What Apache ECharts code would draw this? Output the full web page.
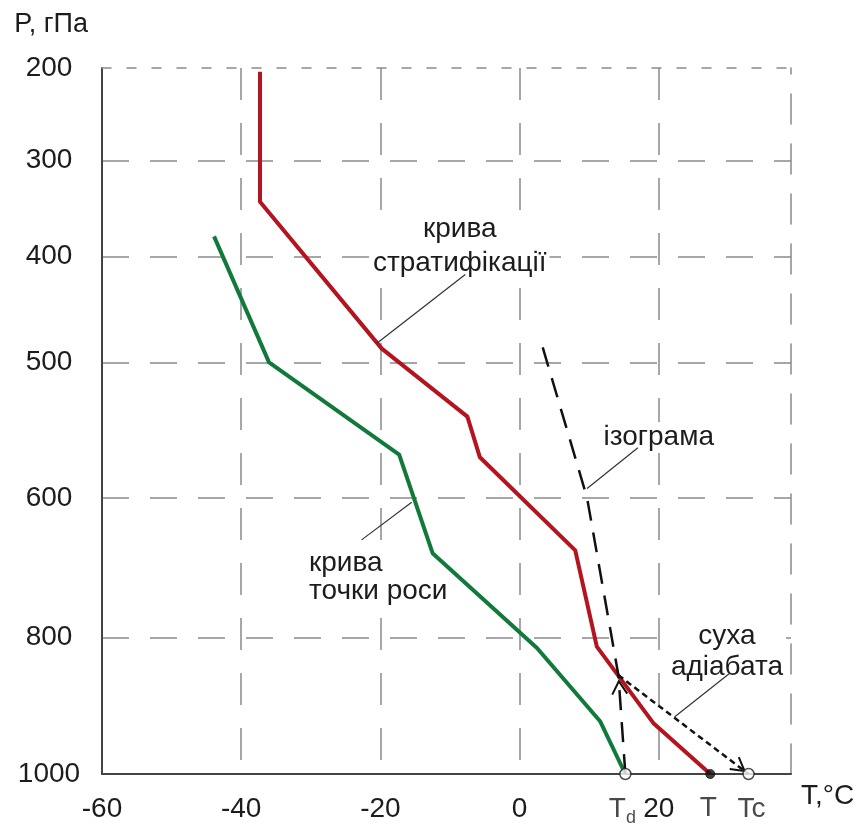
<!DOCTYPE html>
<html>
<head>
<meta charset="utf-8">
<script src="https://cdn.jsdelivr.net/npm/echarts@6/dist/echarts.min.js"></script>
<style>
  html, body { margin: 0; padding: 0; background: #fff; }
  #chart { width: 860px; height: 828px; }
</style>
</head>
<body>
<div id="chart"></div>
<script>
// Vertical axis: pressure levels (hPa) and the height, in % of the 1000–200 hPa column,
// at which each level is drawn on this diagram blank.
const pressureLevels = [1000, 800, 600, 500, 400, 300, 200];
const levelHeights   = [0, 19.3, 39.1, 58.3, 73.3, 86.9, 100];
// Horizontal axis: temperature ticks, °C
const tempTicks = [-60, -40, -20, 0, 20];

// Stratification curve (air temperature vs pressure)
const stratTemp = [-37.3, -37.3, -19.8, -7.5, -5.7, 8.0, 11.1, 19.2, 27.4];
const stratPres = [204, 343, 487, 540, 570, 675, 813, 925, 1000];
// Dew-point curve
const dewTemp = [-43.9, -36.0, -17.3, -12.5, 2.5, 11.6, 15.2];
const dewPres = [379, 500, 568, 679, 815, 923, 1000];
// Isogram through the surface dew point
const isoTemp = [15.2, 14.2, 9.7, 3.2];
const isoPres = [1000, 855, 600, 483];
// Dry adiabat from the condensation level down to the ground
const adiabatTemp = [14.2, 32.9];
const adiabatPres = [855, 1000];
// Ground-level points: dew point, air temperature, convection temperature
const groundNames = ['Td', 'T', 'Tc'];
const groundTemp  = [15.2, 27.4, 32.9];
const groundPres  = 1000;

// Captions and their leader lines (temperature, pressure)
const captions = [
  { text: 'крива\nстратифікації', T: -8.6, p: 389, align: 'center', lineHeight: 34 },
  { text: 'ізограма',             T: 20.0, p: 555, align: 'center', lineHeight: 30 },
  { text: 'крива\nточки роси',    T: -30.7, p: 713, align: 'left',   lineHeight: 28 },
  { text: 'суха\nадіабата',       T: 29.8, p: 821, align: 'center', lineHeight: 31 }
];
const leaderFromT = [-7.8, 17.0, -15.5, 30.2];
const leaderFromP = [417, 563, 606, 852];
const leaderToT   = [-20.5, 9.7, -22.7, 22.3];
const leaderToP   = [482, 593, 660, 916];

// pressure -> drawn height, piecewise between the labelled levels
function heightOf(p) {
  for (let i = 0; i < pressureLevels.length - 1; i++) {
    const p0 = pressureLevels[i], p1 = pressureLevels[i + 1];
    if (p <= p0 && p >= p1) {
      const f = (p0 - p) / (p0 - p1);
      return levelHeights[i] + f * (levelHeights[i + 1] - levelHeights[i]);
    }
  }
  return p > pressureLevels[0] ? levelHeights[0] : levelHeights[levelHeights.length - 1];
}
const toPoints = (ts, ps) => ts.map((t, i) => [t, heightOf(ps[i])]);

const FONT = "'Liberation Sans', Arial, Helvetica, sans-serif";
const INK = '#1c1c1c';
const GRID = '#8a8a8a';

const chart = echarts.init(document.getElementById('chart'), null, { renderer: 'canvas' });

const option = {
  animation: false,
  backgroundColor: '#ffffff',
  textStyle: { fontFamily: FONT },
  grid: { left: 102, right: 69, top: 68, bottom: 54, containLabel: false, outerBoundsMode: 'none' },
  xAxis: [
    {
      type: 'value', min: -60, max: 39, position: 'bottom',
      name: 'T,°C', nameLocation: 'end', nameGap: 10,
      nameTextStyle: { fontSize: 28, color: INK, fontFamily: FONT, align: 'left', verticalAlign: 'top', lineHeight: 44 },
      axisLine: { onZero: false, lineStyle: { color: '#444', width: 2 } },
      axisTick: { show: false, customValues: tempTicks.slice(1) },
      axisLabel: { customValues: tempTicks, fontSize: 28, color: INK, fontFamily: FONT, margin: 21 },
      splitLine: { show: true, lineStyle: { color: GRID, width: 1.5, type: [32, 23] } }
    },
    {
      type: 'value', min: -60, max: 39, position: 'top',
      axisLine: { onZero: false, lineStyle: { color: GRID, width: 1.5, type: [9, 16] } },
      axisTick: { show: false }, axisLabel: { show: false }, splitLine: { show: false }
    }
  ],
  yAxis: [
    {
      type: 'value', min: 0, max: 100, position: 'left',
      name: 'P, гПа', nameLocation: 'end', nameGap: 30,
      nameTextStyle: { fontSize: 27, color: INK, fontFamily: FONT, align: 'right', padding: [0, 14, 0, 0] },
      axisLine: { onZero: false, lineStyle: { color: '#444', width: 2 } },
      axisTick: { show: false, customValues: levelHeights.slice(1, -1) },
      axisLabel: {
        customValues: levelHeights, fontSize: 28, color: INK, fontFamily: FONT,
        align: 'center', margin: 53,
        formatter: v => {
          const i = levelHeights.indexOf(v);
          return i >= 0 ? String(pressureLevels[i]) : '';
        }
      },
      splitLine: { show: true, lineStyle: { color: GRID, width: 1.5, type: [27, 21] } }
    },
    {
      type: 'value', min: 0, max: 100, position: 'right',
      axisLine: { onZero: false, lineStyle: { color: GRID, width: 1.5, type: [30, 20] } },
      axisTick: { show: false }, axisLabel: { show: false }, splitLine: { show: false }
    }
  ],
  series: [
    {
      // captions sit under the curves but mask the grid behind their text
      name: 'captions', type: 'custom', silent: true, z: 3,
      data: captions.map(c => [c.T, heightOf(c.p)]),
      renderItem: (params, api) => {
        const c = captions[params.dataIndex];
        const pt = api.coord([api.value(0), api.value(1)]);
        return {
          type: 'text', x: pt[0], y: pt[1],
          style: {
            text: c.text, fontSize: 28, fontFamily: FONT, fill: INK,
            align: c.align, verticalAlign: 'middle', lineHeight: c.lineHeight,
            backgroundColor: '#fff', padding: [0, 3]
          }
        };
      }
    },
    {
      name: 'крива стратифікації', type: 'line', symbol: 'none',
      data: toPoints(stratTemp, stratPres),
      lineStyle: { color: '#b3141f', width: 4, join: 'round' }, z: 4
    },
    {
      name: 'крива точки роси', type: 'line', symbol: 'none',
      data: toPoints(dewTemp, dewPres),
      lineStyle: { color: '#117a3b', width: 4, join: 'round' }, z: 4
    },
    {
      name: 'ізограма', type: 'line', symbol: 'none',
      data: toPoints(isoTemp, isoPres),
      lineStyle: { color: '#111', width: 2.5, type: [20, 12] }, z: 5
    },
    {
      name: 'суха адіабата', type: 'line', symbol: 'none',
      data: toPoints(adiabatTemp, adiabatPres),
      lineStyle: { color: '#111', width: 2.5, type: [6, 4] }, z: 5
    },
    {
      // open arrowheads: up the isogram at the condensation level, and at the end of the adiabat
      name: 'arrows', type: 'custom', silent: true, z: 6,
      data: [
        [isoTemp[0], heightOf(isoPres[0]), isoTemp[1], heightOf(isoPres[1]), 6],
        [adiabatTemp[0], heightOf(adiabatPres[0]), adiabatTemp[1], heightOf(adiabatPres[1]), 5]
      ],
      encode: { x: [0, 2], y: [1, 3] },
      renderItem: (params, api) => {
        const a = api.coord([api.value(0), api.value(1)]);
        const b = api.coord([api.value(2), api.value(3)]);
        const inset = api.value(4);
        const dx = b[0] - a[0], dy = b[1] - a[1];
        const len = Math.hypot(dx, dy);
        const ux = dx / len, uy = dy / len;
        const tipX = b[0] - ux * inset, tipY = b[1] - uy * inset;
        const L = 15, ang = Math.PI / 6;
        const arm = s => {
          const c = Math.cos(s * ang), sn = Math.sin(s * ang);
          const bx = -ux, by = -uy;
          return [tipX + L * (bx * c - by * sn), tipY + L * (bx * sn + by * c)];
        };
        return {
          type: 'polyline',
          shape: { points: [arm(1), [tipX, tipY], arm(-1)] },
          style: { stroke: '#111', lineWidth: 2, fill: null }
        };
      }
    },
    {
      name: 'leaders', type: 'custom', silent: true, z: 8,
      data: leaderFromT.map((t, i) => [t, heightOf(leaderFromP[i]), leaderToT[i], heightOf(leaderToP[i])]),
      encode: { x: [0, 2], y: [1, 3] },
      renderItem: (params, api) => {
        const a = api.coord([api.value(0), api.value(1)]);
        const b = api.coord([api.value(2), api.value(3)]);
        return {
          type: 'line',
          shape: { x1: a[0], y1: a[1], x2: b[0], y2: b[1] },
          style: { stroke: '#333', lineWidth: 1.2 }
        };
      }
    },
    {
      name: 'ground', type: 'scatter', z: 9, clip: false,
      data: groundNames.map((n, i) => ({
        name: n,
        value: [groundTemp[i], heightOf(groundPres)],
        symbolSize: n === 'T' ? 9 : 11,
        itemStyle: n === 'T'
          ? { color: '#111', borderColor: '#111', borderWidth: 1 }
          : { color: '#fff', borderColor: '#222', borderWidth: 1.5 },
        label: { offset: n === 'T' ? [-2, 0] : (n === 'Tc' ? [3, 0] : [-3, 0]) }
      })),
      label: {
        show: true, position: 'bottom', distance: 15,
        formatter: p => p.name === 'Td' ? '{t|T}{s|d}' : '{t|' + p.name + '}',
        rich: {
          t: { fontSize: 28, fontFamily: FONT, color: INK, lineHeight: 32, verticalAlign: 'top' },
          s: { fontSize: 18, fontFamily: FONT, color: INK, lineHeight: 18, verticalAlign: 'bottom', padding: [29, 0, 0, 0] }
        }
      }
    }
  ]
};

chart.setOption(option);
</script>
</body>
</html>
